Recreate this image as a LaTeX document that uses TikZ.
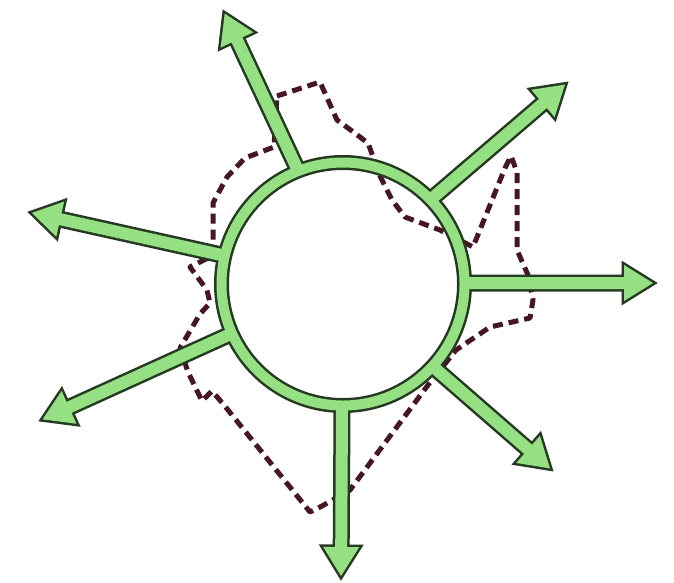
\documentclass[tikz,border=0pt]{standalone}
\usetikzlibrary{calc}
\definecolor{ringgreen}{RGB}{150,224,132}
\definecolor{outlc}{RGB}{38,58,34}
\definecolor{dashc}{RGB}{70,22,38}
\tikzset{
  outl/.style={draw=outlc, line width=5pt, line join=miter},
  gfill/.style={fill=ringgreen},
  dashp/.style={draw=dashc, line width=5pt, line cap=butt, line join=round, dash pattern=on 10pt off 6pt}
}
\newcommand\apath[1]{($(s#1)!6pt!90:(t#1)$) -- ($(h#1)!6pt!-90:(j#1)$) -- ($(h#1)!18pt!-90:(j#1)$) -- (t#1) -- ($(h#1)!18pt!90:(j#1)$) -- ($(h#1)!6pt!90:(j#1)$) -- ($(s#1)!6pt!-90:(t#1)$) -- cycle}
\begin{document}
\begin{tikzpicture}[x=1pt,y=-1pt]
\useasboundingbox (0,0) rectangle (674,582);
\fill[white] (0,0) rectangle (674,582);
% centre and arrow anchors
\coordinate (C) at (343,284);
\coordinate (j1) at (295,164); \coordinate (T1) at (223,10);
\coordinate (j2) at (436,195); \coordinate (T2) at (568,82);
\coordinate (j3) at (217,254); \coordinate (T3) at (28,212);
\coordinate (j4) at (224,337); \coordinate (T4) at (39,421);
\coordinate (j5) at (471,283); \coordinate (T5) at (657,283);
\coordinate (j6) at (438,371); \coordinate (T6) at (553,471);
\coordinate (j7) at (342,412); \coordinate (T7) at (341,580);
\foreach \i in {1,...,7}{
  \coordinate (t\i) at ($(T\i)!4pt!(j\i)$);
  \coordinate (s\i) at ($(j\i)!-6pt!(t\i)$);
  \coordinate (h\i) at ($(t\i)!29pt!(j\i)$);
}
% dashed outline
\draw[dashp] (277,96) -- (320,82) -- (328,100) -- (337,120) -- (352,131) -- (368,143)
  -- (380,176) -- (392,200) -- (405,217) -- (440,230) -- (473,247) -- (505,168)
  -- (511,156) -- (517,172) -- (517,250) -- (528,275) -- (533,300) -- (530,318)
  -- (490,327) -- (456,350) -- (428,385) -- (350,490) -- (322,506) -- (310,512)
  -- (224,405) -- (212,391) -- (202,401) -- (188,372) -- (180,348) -- (200,314)
  -- (210,303) -- (207,290) -- (190,267) -- (212,256) -- (213,240) -- (213,203)
  -- (227,177) -- (245,158) -- (274,147) -- cycle;
% outlines
\draw[outl] (C) circle[radius=126.5] (C) circle[radius=116.5];
\foreach \i in {1,...,7}{ \draw[outl] \apath{\i}; }
% fills
\fill[gfill, even odd rule] (C) circle[radius=126.5] (C) circle[radius=116.5];
\foreach \i in {1,...,7}{ \fill[gfill] \apath{\i}; }
\end{tikzpicture}
\end{document}
